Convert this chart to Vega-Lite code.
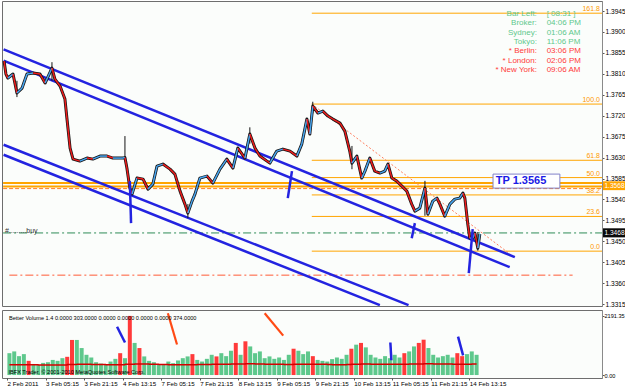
{
  "$schema": "https://vega.github.io/schema/vega-lite/v6.json",
  "padding": {"left": 1, "top": 0, "right": 0, "bottom": 0},
  "background": "#ffffff",
  "spacing": 0,
  "config": {
    "view": {"stroke": "#6e6e6e", "strokeWidth": 1, "fill": "#fbfdfb"},
    "font": "Liberation Sans",
    "axis": {"labelFont": "Liberation Sans", "labelColor": "#000000", "tickColor": "#555555", "domainColor": "#8a8a8a", "grid": false, "title": null, "labelOverlap": false, "labelFlush": false, "labelBound": false}
  },
  "datasets": {
    "price": [
      {"h": 0.85, "p": 1.38375}, {"h": 1.6, "p": 1.38095}, {"h": 2.4, "p": 1.38009}, {"h": 4.5, "p": 1.38095},
      {"h": 6.1, "p": 1.37687}, {"h": 8.2, "p": 1.37794}, {"h": 10.2, "p": 1.38095}, {"h": 12.7, "p": 1.38117},
      {"h": 15.5, "p": 1.38095}, {"h": 17.6, "p": 1.37902}, {"h": 20.4, "p": 1.38224}, {"h": 21.6, "p": 1.37988},
      {"h": 23.7, "p": 1.37837}, {"h": 25.7, "p": 1.37558}, {"h": 26.5, "p": 1.37149}, {"h": 27.8, "p": 1.36504},
      {"h": 29.0, "p": 1.36267}, {"h": 31.8, "p": 1.36224}, {"h": 34.7, "p": 1.36289}, {"h": 37.1, "p": 1.36267},
      {"h": 40.0, "p": 1.36332}, {"h": 42.9, "p": 1.36332}, {"h": 45.3, "p": 1.36289}, {"h": 49.4, "p": 1.36289},
      {"h": 50.2, "p": 1.36300}, {"h": 51.0, "p": 1.36074}, {"h": 52.2, "p": 1.35644}, {"h": 53.1, "p": 1.35515},
      {"h": 55.1, "p": 1.35859}, {"h": 57.6, "p": 1.35837}, {"h": 59.6, "p": 1.35622}, {"h": 61.6, "p": 1.35730},
      {"h": 63.3, "p": 1.36117}, {"h": 65.7, "p": 1.36160}, {"h": 68.6, "p": 1.36052}, {"h": 70.6, "p": 1.35945},
      {"h": 72.7, "p": 1.35579}, {"h": 74.7, "p": 1.35299}, {"h": 75.9, "p": 1.35106}, {"h": 77.6, "p": 1.35364},
      {"h": 78.8, "p": 1.35515}, {"h": 80.8, "p": 1.35859}, {"h": 83.7, "p": 1.35902}, {"h": 86.1, "p": 1.35751},
      {"h": 89.0, "p": 1.36052}, {"h": 91.8, "p": 1.36267}, {"h": 94.3, "p": 1.36074}, {"h": 96.3, "p": 1.36504},
      {"h": 99.2, "p": 1.36289}, {"h": 101.2, "p": 1.36805}, {"h": 103.3, "p": 1.36504}, {"h": 105.3, "p": 1.36332},
      {"h": 108.2, "p": 1.36224}, {"h": 109.4, "p": 1.36181}, {"h": 112.2, "p": 1.36439}, {"h": 114.7, "p": 1.36482},
      {"h": 117.6, "p": 1.36439}, {"h": 120.4, "p": 1.36332}, {"h": 122.4, "p": 1.36590}, {"h": 124.5, "p": 1.37127},
      {"h": 125.7, "p": 1.36805}, {"h": 126.9, "p": 1.37407}, {"h": 129.0, "p": 1.37256}, {"h": 131.0, "p": 1.37299},
      {"h": 133.1, "p": 1.37192}, {"h": 135.1, "p": 1.37127}, {"h": 138.0, "p": 1.37041}, {"h": 140.0, "p": 1.36869},
      {"h": 142.0, "p": 1.36439}, {"h": 142.9, "p": 1.36181}, {"h": 144.9, "p": 1.36332}, {"h": 146.9, "p": 1.35859},
      {"h": 148.2, "p": 1.36009}, {"h": 150.2, "p": 1.36289}, {"h": 152.2, "p": 1.36009}, {"h": 154.3, "p": 1.35966},
      {"h": 156.3, "p": 1.36009}, {"h": 157.6, "p": 1.36160}, {"h": 159.2, "p": 1.35859}, {"h": 161.2, "p": 1.35794},
      {"h": 163.3, "p": 1.35686}, {"h": 165.3, "p": 1.35579}, {"h": 167.3, "p": 1.35299}, {"h": 168.6, "p": 1.35149},
      {"h": 170.6, "p": 1.35213}, {"h": 172.7, "p": 1.35644}, {"h": 173.9, "p": 1.35084}, {"h": 175.9, "p": 1.35364},
      {"h": 177.6, "p": 1.35428}, {"h": 178.8, "p": 1.35299}, {"h": 180.8, "p": 1.35041}, {"h": 182.9, "p": 1.35299},
      {"h": 184.9, "p": 1.35407}, {"h": 186.9, "p": 1.35428}, {"h": 188.2, "p": 1.35536}, {"h": 189.0, "p": 1.35428},
      {"h": 190.2, "p": 1.34869}, {"h": 191.0, "p": 1.34568}, {"h": 192.2, "p": 1.34568}, {"h": 193.1, "p": 1.34676},
      {"h": 194.3, "p": 1.34353}, {"h": 195.1, "p": 1.34654}
    ],
    "wick": [
      {"h": 6.1, "p": 1.37600, "p2": 1.37950}, {"h": 20.4, "p": 1.37950, "p2": 1.38350},
      {"h": 50.2, "p": 1.36289, "p2": 1.36762}, {"h": 75.9, "p": 1.35000, "p2": 1.35300},
      {"h": 101.2, "p": 1.36600, "p2": 1.36950}, {"h": 126.9, "p": 1.37250, "p2": 1.37500},
      {"h": 142.9, "p": 1.36050, "p2": 1.36550}, {"h": 172.7, "p": 1.35050, "p2": 1.35800},
      {"h": 194.3, "p": 1.34300, "p2": 1.34700}
    ],
    "band": [{"h": 0.45, "h2": 245, "p": 1.35751}, {"h": 0.45, "h2": 245, "p": 1.35676}],
    "fib": [
      {"lvl": "161.8", "h": 126.5, "h2": 245, "p": 1.39403},
      {"lvl": "100.0", "h": 126.5, "h2": 245, "p": 1.37450},
      {"lvl": "61.8", "h": 126.5, "h2": 245, "p": 1.36242},
      {"lvl": "50.0", "h": 126.5, "h2": 245, "p": 1.35870},
      {"lvl": "38.2", "h": 126.5, "h2": 245, "p": 1.35497},
      {"lvl": "23.6", "h": 126.5, "h2": 245, "p": 1.35035},
      {"lvl": "0.0", "h": 126.5, "h2": 245, "p": 1.34289}
    ],
    "chan": [
      {"h": 0.65, "p": 1.38626, "h2": 209.4, "p2": 1.34160},
      {"h": 0.65, "p": 1.38382, "h2": 207.3, "p2": 1.33945},
      {"h": 0.65, "p": 1.36576, "h2": 166.0, "p2": 1.33127},
      {"h": 0.65, "p": 1.36361, "h2": 154.3, "p2": 1.33127}
    ],
    "mark": [
      {"h": 52.2, "p": 1.35794, "h2": 52.7, "p2": 1.34891},
      {"h": 118.4, "p": 1.36009, "h2": 116.7, "p2": 1.35428},
      {"h": 168.6, "p": 1.34891, "h2": 167.3, "p2": 1.34568},
      {"h": 192.2, "p": 1.34762, "h2": 190.6, "p2": 1.33816}
    ],
    "info": [
      {"lab": "Bar Left:", "val": "[ 08:31 ]", "g": "g", "h": 218.4, "hv": 222.4, "p": 1.39385},
      {"lab": "Broker:", "val": "04:06 PM", "g": "g", "h": 218.4, "hv": 222.4, "p": 1.39185},
      {"lab": "Sydney:", "val": "01:06 AM", "g": "g", "h": 218.4, "hv": 222.4, "p": 1.38985},
      {"lab": "Tokyo:", "val": "11:06 PM", "g": "g", "h": 218.4, "hv": 222.4, "p": 1.38783},
      {"lab": "* Berlin:", "val": "03:06 PM", "g": "r", "h": 218.4, "hv": 222.4, "p": 1.38583},
      {"lab": "* London:", "val": "02:06 PM", "g": "r", "h": 218.4, "hv": 222.4, "p": 1.38383},
      {"lab": "* New York:", "val": "09:06 AM", "g": "r", "h": 218.4, "hv": 222.4, "p": 1.38181}
    ],
    "vol": [
      {"h": 1, "v": 810, "c": "t", "ma": 380}, {"h": 3, "v": 875, "c": "g", "ma": 380}, {"h": 5, "v": 700, "c": "t", "ma": 380},
      {"h": 7, "v": 775, "c": "t", "ma": 385}, {"h": 9, "v": 525, "c": "c", "ma": 385}, {"h": 11, "v": 410, "c": "t", "ma": 385},
      {"h": 13, "v": 375, "c": "y", "ma": 375}, {"h": 15, "v": 450, "c": "t", "ma": 375}, {"h": 17, "v": 475, "c": "t", "ma": 375},
      {"h": 19, "v": 560, "c": "t", "ma": 370}, {"h": 21, "v": 525, "c": "g", "ma": 370}, {"h": 23, "v": 625, "c": "t", "ma": 370},
      {"h": 25, "v": 675, "c": "c", "ma": 390}, {"h": 27, "v": 1300, "c": "m", "ma": 390}, {"h": 29, "v": 1300, "c": "t", "ma": 395},
      {"h": 31, "v": 1000, "c": "t", "ma": 395}, {"h": 33, "v": 750, "c": "t", "ma": 395}, {"h": 35, "v": 650, "c": "g", "ma": 390},
      {"h": 37, "v": 475, "c": "t", "ma": 390}, {"h": 39, "v": 425, "c": "t", "ma": 390}, {"h": 41, "v": 375, "c": "y", "ma": 380},
      {"h": 43, "v": 500, "c": "t", "ma": 380}, {"h": 45, "v": 600, "c": "t", "ma": 380}, {"h": 47, "v": 810, "c": "r", "ma": 380},
      {"h": 49, "v": 625, "c": "t", "ma": 400}, {"h": 51, "v": 2191, "c": "m", "ma": 400}, {"h": 53, "v": 1190, "c": "t", "ma": 410},
      {"h": 55, "v": 1000, "c": "c", "ma": 410}, {"h": 57, "v": 690, "c": "t", "ma": 410}, {"h": 59, "v": 525, "c": "g", "ma": 400},
      {"h": 61, "v": 475, "c": "t", "ma": 400}, {"h": 63, "v": 410, "c": "t", "ma": 390}, {"h": 65, "v": 375, "c": "y", "ma": 390},
      {"h": 67, "v": 500, "c": "t", "ma": 380}, {"h": 69, "v": 440, "c": "t", "ma": 380}, {"h": 71, "v": 540, "c": "t", "ma": 380},
      {"h": 73, "v": 625, "c": "g", "ma": 385}, {"h": 75, "v": 690, "c": "t", "ma": 385}, {"h": 77, "v": 775, "c": "c", "ma": 385},
      {"h": 79, "v": 560, "c": "t", "ma": 390}, {"h": 81, "v": 500, "c": "t", "ma": 390}, {"h": 83, "v": 600, "c": "t", "ma": 390},
      {"h": 85, "v": 750, "c": "t", "ma": 395}, {"h": 87, "v": 690, "c": "c", "ma": 395}, {"h": 89, "v": 810, "c": "t", "ma": 400},
      {"h": 91, "v": 700, "c": "g", "ma": 400}, {"h": 93, "v": 900, "c": "t", "ma": 405}, {"h": 95, "v": 1190, "c": "r", "ma": 410},
      {"h": 97, "v": 750, "c": "b", "ma": 410}, {"h": 99, "v": 1250, "c": "c", "ma": 415}, {"h": 101, "v": 1060, "c": "t", "ma": 415},
      {"h": 103, "v": 810, "c": "t", "ma": 410}, {"h": 105, "v": 875, "c": "t", "ma": 410}, {"h": 107, "v": 625, "c": "g", "ma": 400},
      {"h": 109, "v": 690, "c": "t", "ma": 400}, {"h": 111, "v": 600, "c": "t", "ma": 395}, {"h": 113, "v": 650, "c": "t", "ma": 395},
      {"h": 115, "v": 560, "c": "y", "ma": 390}, {"h": 117, "v": 750, "c": "t", "ma": 390}, {"h": 119, "v": 975, "c": "c", "ma": 395},
      {"h": 121, "v": 900, "c": "t", "ma": 395}, {"h": 123, "v": 775, "c": "t", "ma": 400}, {"h": 125, "v": 875, "c": "t", "ma": 400},
      {"h": 127, "v": 700, "c": "c", "ma": 400}, {"h": 129, "v": 560, "c": "t", "ma": 395}, {"h": 131, "v": 525, "c": "g", "ma": 395},
      {"h": 133, "v": 500, "c": "t", "ma": 390}, {"h": 135, "v": 590, "c": "t", "ma": 385}, {"h": 137, "v": 650, "c": "t", "ma": 385},
      {"h": 139, "v": 600, "c": "y", "ma": 385}, {"h": 141, "v": 750, "c": "t", "ma": 390}, {"h": 143, "v": 975, "c": "c", "ma": 395},
      {"h": 145, "v": 1125, "c": "t", "ma": 400}, {"h": 147, "v": 1190, "c": "c", "ma": 405}, {"h": 149, "v": 1025, "c": "t", "ma": 405},
      {"h": 151, "v": 750, "c": "t", "ma": 400}, {"h": 153, "v": 650, "c": "g", "ma": 400}, {"h": 155, "v": 600, "c": "t", "ma": 395},
      {"h": 157, "v": 700, "c": "t", "ma": 395}, {"h": 159, "v": 625, "c": "b", "ma": 395}, {"h": 161, "v": 750, "c": "t", "ma": 400},
      {"h": 163, "v": 650, "c": "t", "ma": 400}, {"h": 165, "v": 810, "c": "c", "ma": 400}, {"h": 167, "v": 875, "c": "t", "ma": 405},
      {"h": 169, "v": 1060, "c": "t", "ma": 410}, {"h": 171, "v": 1190, "c": "m", "ma": 410}, {"h": 173, "v": 1310, "c": "c", "ma": 415},
      {"h": 175, "v": 1000, "c": "t", "ma": 415}, {"h": 177, "v": 750, "c": "t", "ma": 410}, {"h": 179, "v": 650, "c": "g", "ma": 405},
      {"h": 181, "v": 700, "c": "t", "ma": 405}, {"h": 183, "v": 750, "c": "t", "ma": 405}, {"h": 185, "v": 650, "c": "t", "ma": 400},
      {"h": 187, "v": 810, "c": "c", "ma": 400}, {"h": 189, "v": 700, "c": "m", "ma": 400}, {"h": 191, "v": 775, "c": "t", "ma": 400},
      {"h": 193, "v": 875, "c": "t", "ma": 405}, {"h": 195, "v": 750, "c": "t", "ma": 405}
    ],
    "vblue": [
      {"h": 45.7, "v": 1789, "h2": 49.0, "v2": 1205},
      {"h": 159.2, "v": 1205, "h2": 159.6, "v2": 548},
      {"h": 187.3, "v": 1424, "h2": 189.4, "v2": 730}
    ],
    "vred": [
      {"h": 66.8, "v": 2290, "h2": 70.6, "v2": 1132},
      {"h": 107.0, "v": 2290, "h2": 114.7, "v2": 1460}
    ]
  },
  "vconcat": [
    {
      "width": 600,
      "height": 305,
      "encoding": {
        "x": {"field": "h", "type": "quantitative", "scale": {"domain": [0, 245], "nice": false, "zero": false}, "axis": null},
        "y": {"field": "p", "type": "quantitative", "scale": {"domain": [1.3311, 1.39665], "nice": false, "zero": false},
          "axis": {"orient": "right", "values": [1.3315, 1.336, 1.3405, 1.345, 1.3495, 1.354, 1.3585, 1.363, 1.3675, 1.372, 1.3765, 1.381, 1.3855, 1.39, 1.3945],
            "format": ".4f", "labelFontSize": 6.6, "tickSize": 2, "labelPadding": 1}}
      },
      "layer": [
        {"data": {"name": "band"}, "mark": {"type": "rule", "color": "#ffa500", "strokeWidth": 2}, "encoding": {"x2": {"field": "h2"}}},
        {"data": {"values": [{"h": 0.45, "h2": 245, "p": 1.35633}]}, "mark": {"type": "rule", "color": "#ff7f24", "strokeWidth": 1, "strokeDash": [4, 2]}, "encoding": {"x2": {"field": "h2"}}},
        {"data": {"values": [{"h": 0.45, "h2": 245, "p": 1.3468}]}, "mark": {"type": "rule", "color": "#2e8b57", "strokeWidth": 1, "strokeDash": [8, 3, 2, 3]}, "encoding": {"x2": {"field": "h2"}}},
        {"data": {"values": [{"h": 3, "h2": 233, "p": 1.33773}]}, "mark": {"type": "rule", "color": "#ff5a36", "strokeWidth": 1, "strokeDash": [8, 3, 2, 3]}, "encoding": {"x2": {"field": "h2"}}},
        {"data": {"name": "fib"}, "mark": {"type": "rule", "color": "#ffa500", "strokeWidth": 1}, "encoding": {"x2": {"field": "h2"}}},
        {"data": {"name": "fib"}, "mark": {"type": "text", "align": "right", "baseline": "bottom", "dx": -2, "dy": -1, "fontSize": 7, "color": "#ff9900"},
          "encoding": {"x": {"field": "h2", "type": "quantitative"}, "text": {"field": "lvl"}}},
        {"data": {"values": [{"h": 126.5, "p": 1.37450, "h2": 208.6, "p2": 1.34181}]}, "mark": {"type": "rule", "color": "#ff8060", "strokeWidth": 1, "strokeDash": [2, 2]},
          "encoding": {"x2": {"field": "h2"}, "y2": {"field": "p2"}}},
        {"data": {"name": "chan"}, "mark": {"type": "rule", "color": "#2323e0", "strokeWidth": 2.5},
          "encoding": {"x2": {"field": "h2"}, "y2": {"field": "p2"}}},
        {"data": {"name": "price"}, "mark": {"type": "line", "color": "#151515", "strokeWidth": 3, "strokeJoin": "round"}},
        {"data": {"name": "wick"}, "mark": {"type": "rule", "color": "#151515", "strokeWidth": 1}, "encoding": {"y2": {"field": "p2"}}},
        {"data": {"name": "price"},
          "transform": [
            {"window": [{"op": "lead", "field": "p", "as": "p2"}, {"op": "lead", "field": "h", "as": "h2"}], "sort": [{"field": "h"}]},
            {"filter": "datum.h2 != null"}
          ],
          "mark": {"type": "rule", "strokeWidth": 1.5},
          "encoding": {"x2": {"field": "h2"}, "y2": {"field": "p2"},
            "color": {"condition": {"test": "datum.p2 < datum.p", "value": "#ee1c1c"}, "value": "#49a6f0"}}},
        {"data": {"name": "mark"}, "mark": {"type": "rule", "color": "#2323e0", "strokeWidth": 2.5}, "encoding": {"x2": {"field": "h2"}, "y2": {"field": "p2"}}},
        {"data": {"values": [{"h": 200.5, "h2": 227.8, "p": 1.35945, "p2": 1.35644}]}, "mark": {"type": "rect", "fill": "#ffffff", "stroke": "#8080c8", "strokeWidth": 1},
          "encoding": {"x2": {"field": "h2"}, "y2": {"field": "p2"}}},
        {"data": {"values": [{"h": 201.6, "p": 1.35790, "t": "TP 1.3565"}]}, "mark": {"type": "text", "align": "left", "baseline": "middle", "fontSize": 11, "fontWeight": "bold", "color": "#1a1ae6"},
          "encoding": {"text": {"field": "t"}}},
        {"data": {"name": "info"}, "mark": {"type": "text", "align": "right", "baseline": "middle", "fontSize": 8},
          "encoding": {"text": {"field": "lab"}, "color": {"field": "g", "type": "nominal", "scale": {"domain": ["g", "r"], "range": ["#5ec88c", "#ff3a3a"]}, "legend": null}}},
        {"data": {"name": "info"}, "mark": {"type": "text", "align": "left", "baseline": "middle", "fontSize": 8},
          "encoding": {"x": {"field": "hv", "type": "quantitative"}, "text": {"field": "val"}, "color": {"field": "g", "type": "nominal", "legend": null}}},
        {"data": {"values": [{"h": 1.2, "p": 1.34720, "t": "#.........buy"}]}, "mark": {"type": "text", "align": "left", "baseline": "middle", "fontSize": 7, "color": "#333333"},
          "encoding": {"text": {"field": "t"}}},
        {"data": {"values": [{"h": 245.4, "h2": 256, "p": 1.35790, "p2": 1.35600}]}, "mark": {"type": "rect", "fill": "#ffa500"}, "encoding": {"x2": {"field": "h2"}, "y2": {"field": "p2"}}},
        {"data": {"values": [{"h": 246.0, "p": 1.35695, "t": "1.3568"}]}, "mark": {"type": "text", "align": "left", "baseline": "middle", "fontSize": 6.6, "color": "#ffffff"}, "encoding": {"text": {"field": "t"}}},
        {"data": {"values": [{"h": 245.4, "h2": 256, "p": 1.34780, "p2": 1.34585}]}, "mark": {"type": "rect", "fill": "#0a0a0a"}, "encoding": {"x2": {"field": "h2"}, "y2": {"field": "p2"}}},
        {"data": {"values": [{"h": 246.0, "p": 1.34682, "t": "1.3468"}]}, "mark": {"type": "text", "align": "left", "baseline": "middle", "fontSize": 6.6, "color": "#ffffff"}, "encoding": {"text": {"field": "t"}}}
      ]
    },
    {
      "width": 600,
      "height": 68,
      "encoding": {
        "x": {"field": "h", "type": "quantitative", "scale": {"domain": [0, 245], "nice": false, "zero": false},
          "axis": {"orient": "bottom", "values": [0, 16, 32, 48, 64, 80, 96, 112, 128, 144, 160, 176, 192],
            "labelExpr": "['2 Feb 2011','3 Feb 05:15','3 Feb 21:15','4 Feb 13:15','7 Feb 05:15','7 Feb 21:15','8 Feb 13:15','9 Feb 05:15','9 Feb 21:15','10 Feb 13:15','11 Feb 05:15','11 Feb 21:15','14 Feb 13:15'][round(datum.value/16)]",
            "labelAlign": "left", "labelFontSize": 6.2, "tickSize": 2, "domain": false, "labelPadding": 0}},
        "y": {"field": "v", "type": "quantitative", "scale": {"domain": [-110, 2410], "nice": false, "zero": false},
          "axis": {"orient": "right", "values": [0, 2191.35], "format": ".2f", "labelFontSize": 5.6, "tickSize": 2, "labelPadding": 0}}
      },
      "layer": [
        {"data": {"name": "vol"}, "mark": {"type": "bar", "size": 4},
          "encoding": {"y2": {"datum": 0},
            "color": {"field": "c", "type": "nominal", "scale": {"domain": ["t", "c", "g", "y", "r", "m", "b"], "range": ["#26a898", "#7fdcdc", "#36d84a", "#e6e600", "#ff8a8a", "#b06ae0", "#3b3bff"]}, "legend": null}}},
        {"data": {"name": "vol"}, "mark": {"type": "line", "color": "#d40000", "strokeWidth": 1.5, "strokeJoin": "round", "interpolate": "step-after"},
          "encoding": {"y": {"field": "ma", "type": "quantitative"}}},
        {"data": {"name": "vblue"}, "mark": {"type": "rule", "color": "#2323e0", "strokeWidth": 2.5}, "encoding": {"x2": {"field": "h2"}, "y2": {"field": "v2"}}},
        {"data": {"name": "vred"}, "mark": {"type": "rule", "color": "#ff4a14", "strokeWidth": 2.2}, "encoding": {"x2": {"field": "h2"}, "y2": {"field": "v2"}}},
        {"data": {"values": [{"h": 0.8, "v": 2117, "t": "Better Volume 1.4 0.0000 303.0000 0.0000 0.0000 0.0000 0.0000 374.0000"}]},
          "mark": {"type": "text", "align": "left", "baseline": "middle", "fontSize": 5.6, "color": "#000000"},
          "encoding": {"text": {"field": "t"}}},
        {"data": {"values": [{"h": 0.6, "v": 110, "t": "IBFX Trader, © 2001-2010 MetaQuotes Software Corp."}]},
          "mark": {"type": "text", "align": "left", "baseline": "middle", "fontSize": 5.6, "color": "#000000"},
          "encoding": {"text": {"field": "t"}}}
      ]
    }
  ]
}
